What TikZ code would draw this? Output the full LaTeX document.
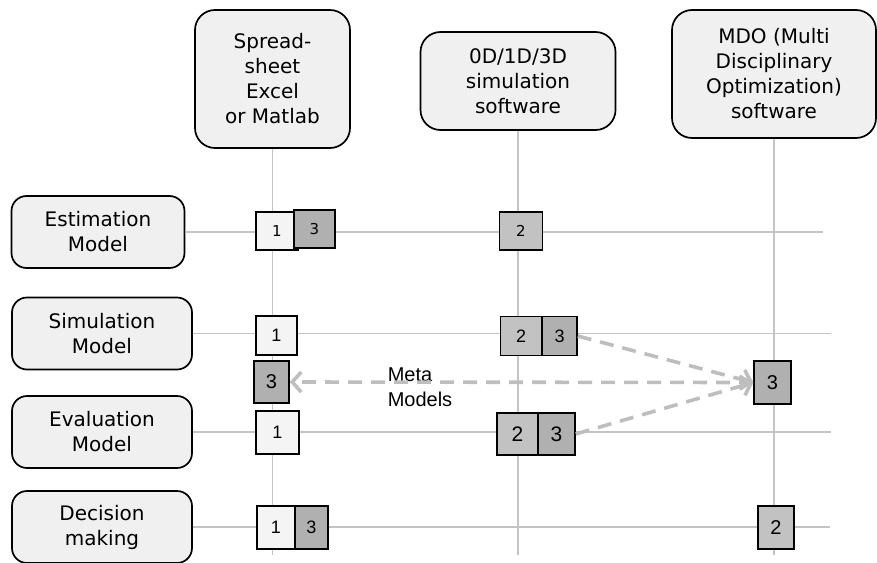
\documentclass[tikz,border=0pt]{standalone}
\usepackage{fontspec}
\setmainfont{DejaVu Sans}
\newfontfamily\numfont{Liberation Sans}
\usetikzlibrary{arrows.meta}
\definecolor{boxFill}{HTML}{F0F0F0}
\definecolor{whiteFill}{HTML}{F4F4F4}
\definecolor{lightGrayFill}{HTML}{C2C2C2}
\definecolor{grayFill}{HTML}{B0B0B0}
\definecolor{lineGray}{HTML}{C4C4C4}
\definecolor{metaGray}{HTML}{BEBEBE}

\begin{document}
\begin{tikzpicture}[x=1pt,y=-1pt]
\fontsize{20}{25}\selectfont
  \tikzstyle{toolStyle}=[rounded corners=20pt,line width=1.7pt,draw=black,fill=boxFill,align=center,inner sep=0pt]
  \tikzstyle{modelStyle}=[rounded corners=15pt,line width=1.7pt,draw=black,fill=boxFill,align=center,inner sep=0pt,minimum width=180,minimum height=72]
  \tikzstyle{numBox}=[draw=black,line width=1.6pt,inner sep=0pt,minimum width=41,minimum height=39,font=\numfont\fontsize{18}{18}\selectfont]
  \tikzstyle{whiteBox}=[numBox,fill=whiteFill]
  \tikzstyle{lightGrayBox}=[numBox,fill=lightGrayFill]
  \tikzstyle{grayBox}=[numBox,fill=grayFill]
  \tikzstyle{gridLine}=[draw=lineGray,line width=1.4pt]
  \tikzstyle{metaArrow}=[draw=metaGray,line width=3.6pt,dash pattern=on 14pt off 9pt,-{Straight Barb[length=9pt,width=20pt,line width=3.6pt]}]
  \tikzstyle{metaText}=[align=left,inner sep=0pt,font=\numfont\fontsize{20}{25}\selectfont]

  \useasboundingbox (0,0) rectangle (877,562);

  \begin{scope}
   % tools
   \node[toolStyle,minimum width=155,minimum height=138](sheet) at (272.5,79) {Spread-\\sheet\\Excel\\or Matlab};
   \node[toolStyle,minimum width=195,minimum height=98](simSoft) at (518,81) {0D/1D/3D\\simulation\\software};
   \node[toolStyle,minimum width=204,minimum height=128](mdo) at (774,74) {MDO (Multi\\Disciplinary\\Optimization)\\software};

   % models
   \node[modelStyle,minimum width=173](est) at (98,232) {Estimation\\Model};
   \node[modelStyle](simm) at (102,333.5) {Simulation\\Model};
   \node[modelStyle](eval) at (102,432) {Evaluation\\Model};
   \node[modelStyle](dec) at (102,527) {Decision\\making};

   \coordinate (sheetEnd) at (272.5,555);
   \coordinate (simSoftEnd) at (518,555);
   \coordinate (mdoEnd) at (774,555);
   \coordinate (estEnd) at (823,232);
   \coordinate (simmEnd) at (831,333.5);
   \coordinate (evalEnd) at (831,432);
   \coordinate (decEnd) at (830,527);

   \draw[gridLine] (sheet) -- (sheetEnd);
   \draw[gridLine] (simSoft) -- (simSoftEnd);
   \draw[gridLine] (mdo) -- (mdoEnd);
   \draw[gridLine] (est) -- (estEnd);
   \draw[gridLine] (simm) -- (simmEnd);
   \draw[gridLine] (eval) -- (evalEnd);
   \draw[gridLine] (dec) -- (decEnd);

   % estimation row
   \node[whiteBox,minimum width=42,minimum height=38,font=\normalfont\fontsize{15}{15}\selectfont](est1) at (277,231) {1};
   \node[grayBox,minimum height=38,font=\normalfont\fontsize{15}{15}\selectfont](est3) at (314.5,229) {3};
   \node[lightGrayBox,minimum width=43,minimum height=38,font=\normalfont\fontsize{15}{15}\selectfont](est2) at (521,231) {2};

   % simulation row
   \node[whiteBox](simm1) at (276.5,335.5) {1};
   \node[lightGrayBox](simm2) at (521,336) {2};
   \node[grayBox,minimum width=35](simm3) at (559.5,336) {3};

   % meta models
   \node[grayBox,minimum width=35,minimum height=42,font=\numfont\fontsize{20}{20}\selectfont](metaL) at (271.5,382) {3};
   \node[grayBox,minimum width=37,minimum height=43,font=\numfont\fontsize{20}{20}\selectfont](metaR) at (772.5,382.5) {3};
   \node[metaText](meta) at (420,387) {Meta\\Models};

   % evaluation row
   \node[whiteBox,minimum width=43,minimum height=43](eval1) at (277.5,432.5) {1};
   \node[lightGrayBox,minimum height=42,font=\numfont\fontsize{21}{21}\selectfont](eval2) at (517.5,434) {2};
   \node[grayBox,minimum width=37,minimum height=42,font=\numfont\fontsize{21}{21}\selectfont](eval3) at (556.5,434) {3};

   % decision row
   \node[whiteBox,minimum width=38,minimum height=43](dec1) at (276,527.5) {1};
   \node[grayBox,minimum width=33,minimum height=43](dec3) at (311.5,527.5) {3};
   \node[lightGrayBox,minimum width=36,minimum height=43,font=\numfont\fontsize{20}{20}\selectfont](dec2) at (776,527.5) {2};

   \draw[metaArrow] (metaR.west) -- (metaL.east);
   \draw[metaArrow] (simm3.east) -- (metaR.west);
   \draw[metaArrow] (eval3.east) -- (metaR.west);
  \end{scope}

\end{tikzpicture}
\end{document}
